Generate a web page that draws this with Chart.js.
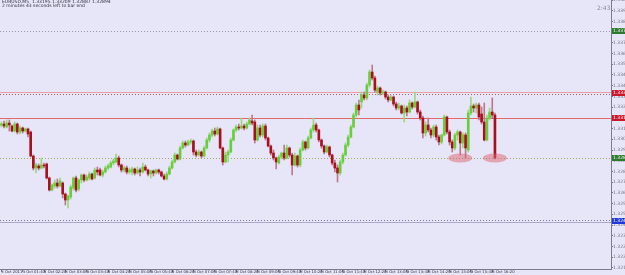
<!DOCTYPE html>
<html>
<head>
<meta charset="utf-8">
<script src="https://cdn.jsdelivr.net/npm/chart.js@4.4.1/dist/chart.umd.min.js"></script>
<style>
  html, body { margin: 0; padding: 0; background: #e6e6f8; }
  #wrap { width: 625px; height: 275px; }
</style>
</head>
<body>
<div id="wrap"><canvas id="priceChart" width="625" height="275"></canvas></div>
<script>
// EURUSD M5, 3 Oct 2011
const timeLabels = ['3 Oct 2011', '3 Oct 01:40', '3 Oct 02:20', '3 Oct 03:00', '3 Oct 03:40', '3 Oct 04:20',
    '3 Oct 05:00', '3 Oct 05:40', '3 Oct 06:20', '3 Oct 07:00', '3 Oct 07:40', '3 Oct 08:20',
    '3 Oct 09:00', '3 Oct 09:40', '3 Oct 10:20', '3 Oct 11:00', '3 Oct 11:40', '3 Oct 12:20',
    '3 Oct 13:00', '3 Oct 13:40', '3 Oct 14:20', '3 Oct 15:00', '3 Oct 15:40', '3 Oct 16:20'];

const opens = [
    1.33125,1.33132,1.33111,1.33139,1.33118,1.33083,1.33132,1.33076,1.33104,1.33083,
    1.33097,1.33076,1.32908,1.32824,1.32838,1.32824,1.32845,1.32852,1.32754,1.32670,
    1.32698,1.32719,1.32698,1.32719,1.32642,1.32600,1.32621,1.32684,1.32754,1.32677,
    1.32740,1.32775,1.32740,1.32754,1.32782,1.32754,1.32810,1.32810,1.32775,1.32796,
    1.32824,1.32831,1.32859,1.32866,1.32894,1.32845,1.32810,1.32824,1.32796,1.32796,
    1.32817,1.32789,1.32810,1.32796,1.32831,1.32810,1.32782,1.32803,1.32789,1.32810,
    1.32796,1.32768,1.32747,1.32782,1.32824,1.32866,1.32915,1.32887,1.32964,1.32999,
    1.32985,1.33006,1.33013,1.32936,1.32915,1.32936,1.32908,1.32964,1.33020,1.33055,
    1.33083,1.33062,1.33097,1.32964,1.32866,1.32915,1.32936,1.33020,1.33090,1.33111,
    1.33104,1.33118,1.33104,1.33132,1.33153,1.33146,1.33020,1.33104,1.33055,1.33118,
    1.33034,1.32978,1.32929,1.32894,1.32859,1.32901,1.32929,1.32894,1.32964,1.32915,
    1.32845,1.32908,1.32845,1.32950,1.33006,1.32964,1.33034,1.33090,1.33125,1.33090,
    1.33020,1.32978,1.32936,1.32971,1.32915,1.32859,1.32824,1.32789,1.32866,1.32915,
    1.32985,1.33041,1.33111,1.33195,1.33265,1.33286,1.33335,1.33314,1.33405,1.33496,
    1.33454,1.33356,1.33384,1.33349,1.33356,1.33321,1.33300,1.33321,1.33272,1.33244,
    1.33258,1.33209,1.33244,1.33216,1.33279,1.33251,1.33286,1.33216,1.33174,1.33069,
    1.33125,1.33090,1.33055,1.33111,1.33041,1.33006,1.33055,1.33181,1.33076,1.33006,
    1.32964,1.33055,1.33076,1.32999,1.33055,1.32950,1.33209,1.33258,1.33244,1.33265,
    1.33202,1.33146,1.33020,1.33174,1.33216,1.33195
];
const highs = [
    1.33146,1.33153,1.33160,1.33160,1.33125,1.33146,1.33139,1.33118,1.33111,1.33104,
    1.33104,1.33083,1.32915,1.32859,1.32852,1.32894,1.32859,1.32859,1.32761,1.32712,
    1.32740,1.32747,1.32754,1.32726,1.32649,1.32635,1.32705,1.32761,1.32768,1.32747,
    1.32782,1.32782,1.32775,1.32796,1.32789,1.32824,1.32831,1.32824,1.32810,1.32838,
    1.32852,1.32873,1.32887,1.32922,1.32908,1.32852,1.32838,1.32838,1.32824,1.32831,
    1.32824,1.32831,1.32824,1.32859,1.32845,1.32817,1.32810,1.32810,1.32817,1.32817,
    1.32803,1.32782,1.32796,1.32838,1.32880,1.32929,1.32922,1.32978,1.33013,1.33013,
    1.33020,1.33027,1.33020,1.32950,1.32950,1.32943,1.32978,1.33034,1.33069,1.33097,
    1.33104,1.33111,1.33104,1.32971,1.32936,1.32950,1.33034,1.33097,1.33125,1.33132,
    1.33174,1.33132,1.33146,1.33174,1.33195,1.33160,1.33125,1.33125,1.33132,1.33132,
    1.33041,1.32985,1.32950,1.32901,1.32915,1.32936,1.32985,1.32985,1.32971,1.32929,
    1.32929,1.32915,1.32964,1.33020,1.33013,1.33048,1.33104,1.33174,1.33139,1.33097,
    1.33027,1.32985,1.32985,1.32978,1.32922,1.32880,1.32845,1.32880,1.32929,1.32999,
    1.33055,1.33125,1.33209,1.33279,1.33300,1.33356,1.33356,1.33419,1.33510,1.33545,
    1.33468,1.33398,1.33391,1.33370,1.33363,1.33335,1.33335,1.33328,1.33286,1.33279,
    1.33265,1.33265,1.33258,1.33300,1.33286,1.33356,1.33293,1.33230,1.33188,1.33146,
    1.33174,1.33104,1.33125,1.33125,1.33055,1.33062,1.33195,1.33188,1.33090,1.33020,
    1.33069,1.33090,1.33083,1.33069,1.33069,1.33230,1.33321,1.33272,1.33279,1.33279,
    1.33251,1.33279,1.33195,1.33244,1.33314,1.33209
];
const lows = [
    1.33111,1.33104,1.33104,1.33083,1.33076,1.33076,1.33062,1.33062,1.33069,1.33076,
    1.33041,1.32901,1.32810,1.32789,1.32810,1.32817,1.32824,1.32747,1.32663,1.32663,
    1.32684,1.32684,1.32691,1.32614,1.32565,1.32544,1.32607,1.32670,1.32656,1.32663,
    1.32719,1.32726,1.32733,1.32740,1.32740,1.32747,1.32775,1.32768,1.32761,1.32789,
    1.32810,1.32824,1.32845,1.32859,1.32831,1.32796,1.32796,1.32782,1.32782,1.32775,
    1.32775,1.32782,1.32768,1.32789,1.32803,1.32768,1.32754,1.32768,1.32782,1.32782,
    1.32761,1.32740,1.32740,1.32775,1.32817,1.32859,1.32880,1.32880,1.32957,1.32971,
    1.32978,1.32992,1.32915,1.32901,1.32908,1.32894,1.32901,1.32957,1.33006,1.33041,
    1.33048,1.33055,1.32957,1.32845,1.32859,1.32866,1.32929,1.33013,1.33076,1.33090,
    1.33097,1.33090,1.33097,1.33125,1.33125,1.32999,1.33013,1.33041,1.33041,1.33020,
    1.32971,1.32915,1.32880,1.32817,1.32852,1.32887,1.32880,1.32887,1.32901,1.32775,
    1.32838,1.32831,1.32831,1.32943,1.32950,1.32957,1.33027,1.33076,1.33076,1.33006,
    1.32964,1.32922,1.32929,1.32901,1.32845,1.32796,1.32726,1.32775,1.32852,1.32908,
    1.32971,1.33034,1.33104,1.33181,1.33195,1.33244,1.33300,1.33300,1.33391,1.33440,
    1.33356,1.33335,1.33335,1.33335,1.33307,1.33286,1.33293,1.33258,1.33230,1.33230,
    1.33202,1.33146,1.33188,1.33209,1.33237,1.33244,1.33202,1.33160,1.33034,1.33048,
    1.33076,1.33034,1.33041,1.33020,1.32985,1.32992,1.33048,1.33062,1.32985,1.32936,
    1.32950,1.33020,1.32915,1.32964,1.32894,1.32936,1.33195,1.33216,1.33209,1.33160,
    1.33132,1.33013,1.33013,1.33160,1.33174,1.32887
];
const closes = [
    1.33132,1.33118,1.33139,1.33125,1.33083,1.33132,1.33076,1.33104,1.33083,1.33097,
    1.33062,1.32908,1.32824,1.32845,1.32824,1.32845,1.32838,1.32754,1.32670,1.32705,
    1.32719,1.32698,1.32733,1.32642,1.32600,1.32628,1.32691,1.32754,1.32670,1.32740,
    1.32775,1.32740,1.32761,1.32782,1.32747,1.32810,1.32796,1.32775,1.32796,1.32824,
    1.32838,1.32859,1.32873,1.32894,1.32845,1.32810,1.32824,1.32796,1.32810,1.32817,
    1.32789,1.32810,1.32796,1.32831,1.32810,1.32782,1.32803,1.32789,1.32810,1.32796,
    1.32768,1.32747,1.32782,1.32824,1.32866,1.32915,1.32887,1.32964,1.32999,1.32985,
    1.33006,1.33013,1.32936,1.32915,1.32936,1.32908,1.32964,1.33020,1.33055,1.33083,
    1.33062,1.33097,1.32964,1.32866,1.32915,1.32936,1.33020,1.33090,1.33111,1.33104,
    1.33118,1.33104,1.33132,1.33160,1.33139,1.33020,1.33104,1.33055,1.33118,1.33034,
    1.32978,1.32929,1.32894,1.32866,1.32901,1.32929,1.32894,1.32964,1.32915,1.32845,
    1.32908,1.32845,1.32950,1.33006,1.32964,1.33034,1.33090,1.33125,1.33090,1.33020,
    1.32978,1.32936,1.32971,1.32915,1.32859,1.32824,1.32789,1.32866,1.32915,1.32985,
    1.33041,1.33111,1.33195,1.33265,1.33230,1.33335,1.33314,1.33405,1.33496,1.33454,
    1.33370,1.33384,1.33349,1.33356,1.33321,1.33300,1.33321,1.33272,1.33244,1.33258,
    1.33209,1.33244,1.33216,1.33279,1.33251,1.33286,1.33216,1.33174,1.33069,1.33125,
    1.33090,1.33055,1.33111,1.33041,1.33006,1.33055,1.33181,1.33076,1.33006,1.32964,
    1.33055,1.33076,1.32999,1.33055,1.32964,1.33209,1.33258,1.33244,1.33265,1.33181,
    1.33146,1.33020,1.33174,1.33216,1.33195,1.32894
];

// right price scale
const priceTicks = [1.32125, 1.32200, 1.32275, 1.32350, 1.32425, 1.32500, 1.32575, 1.32650, 1.32725,
    1.32800, 1.32875, 1.32950, 1.33025, 1.33100, 1.33175, 1.33250, 1.33325, 1.33400, 1.33475,
    1.33550, 1.33625, 1.33700, 1.33775, 1.33850, 1.33925, 1.34000];

// horizontal lines drawn on the chart
const levelPrices = [1.33783, 1.33353, 1.33342, 1.33174, 1.32894, 1.32460, 1.32446];
const levelStyles = [
    { color: '#9a9aa6', dash: [1, 2] },
    { color: '#eba0a6', dash: [] },
    { color: '#b06070', dash: [1, 2] },
    { color: '#e06a6a', dash: [] },
    { color: '#a4a860', dash: [1, 2] },
    { color: '#7a7aa0', dash: [1, 2] },
    { color: '#a8a8d0', dash: [] }
];
// price boxes on the right axis
const boxPrices = [1.33783, 1.33349, 1.33174, 1.32894, 1.32453];
const boxColors = ['#2d7a2d', '#c8182e', '#c8182e', '#2d7a2d', '#2038d8'];

// marked lows (bar index, price)
const markBars = [172, 185];
const markPrices = [1.32894, 1.32894];

const slotCount = 229;
const bullColor = '#6acd3c';
const bearColor = '#a8101e';

const slots = Array.from({ length: slotCount }, (_, i) => i);
const isBull = opens.map((o, i) => closes[i] >= o);

const overlay = {
    id: 'overlay',
    beforeDraw(chart) {
        const c = chart.ctx;
        c.save();
        c.fillStyle = '#e6e6f8';
        c.fillRect(0, 0, chart.width, chart.height);
        c.restore();
    },
    beforeDatasetsDraw(chart) {
        const c = chart.ctx;
        const area = chart.chartArea;
        const y = chart.scales.y;
        c.save();
        levelPrices.forEach((p, i) => {
            const py = Math.round(y.getPixelForValue(p)) + 0.5;
            c.strokeStyle = levelStyles[i].color;
            c.setLineDash(levelStyles[i].dash);
            c.lineWidth = 1;
            c.beginPath();
            c.moveTo(area.left, py);
            c.lineTo(area.right, py);
            c.stroke();
        });
        c.restore();
    },
    afterDatasetsDraw(chart) {
        const c = chart.ctx;
        const x = chart.scales.x;
        const y = chart.scales.y;
        c.save();
        c.fillStyle = 'rgba(222, 100, 112, 0.5)';
        markBars.forEach((b, i) => {
            c.beginPath();
            c.ellipse(x.getPixelForValue(b), y.getPixelForValue(markPrices[i]), 12, 4.5, 0, 0, Math.PI * 2);
            c.fill();
        });
        c.restore();
    },
    afterDraw(chart) {
        const c = chart.ctx;
        const area = chart.chartArea;
        const y = chart.scales.y;
        c.save();
        c.font = '4.5px "DejaVu Sans"';
        c.textBaseline = 'middle';
        boxPrices.forEach((p, i) => {
            const py = Math.round(y.getPixelForValue(p));
            c.fillStyle = boxColors[i];
            c.fillRect(area.right + 1, py - 3, 14, 6);
            c.fillStyle = '#ffffff';
            c.fillText(p.toFixed(5), area.right + 2, py);
        });
        // header
        const last = closes.length - 1;
        c.fillStyle = '#303040';
        c.font = '4.5px "DejaVu Sans"';
        c.textBaseline = 'top';
        c.fillText('EURUSD,M5  ' + opens[last].toFixed(5) + ' ' + highs[last].toFixed(5) + ' ' +
            lows[last].toFixed(5) + ' ' + closes[last].toFixed(5), 2, 0);
        c.fillText('2 minutes 43 seconds left to bar end', 2, 4);
        c.fillStyle = '#8a8a98';
        c.font = '6px "DejaVu Sans"';
        c.fillText('2:43', 597, 5);
        c.restore();
    }
};

new Chart(document.getElementById('priceChart'), {
    type: 'bar',
    data: {
        labels: slots,
        datasets: [
            {
                label: 'body',
                data: opens.map((o, i) => [o, closes[i]]),
                backgroundColor: isBull.map(b => b ? bullColor : bearColor),
                barThickness: 2,
                minBarLength: 1,
                grouped: false
            },
            {
                label: 'wick',
                data: lows.map((l, i) => [l, highs[i]]),
                backgroundColor: isBull.map(b => b ? '#9ad880' : '#c0788a'),
                barThickness: 1,
                grouped: false
            }
        ]
    },
    options: {
        responsive: false,
        animation: false,
        layout: { padding: 0 },
        plugins: { legend: { display: false }, tooltip: { enabled: false } },
        scales: {
            x: {
                offset: true,
                grid: { drawOnChartArea: false, drawTicks: true, tickLength: 3, color: '#7c7c8c', offset: false },
                border: { color: '#7c7c8c' },
                ticks: {
                    autoSkip: false,
                    maxRotation: 0,
                    align: 'start',
                    padding: -2,
                    color: '#333340',
                    font: { size: 3.8, family: 'DejaVu Sans' },
                    callback: v => timeLabels[v / 8]
                },
                afterBuildTicks: s => {
                    s.ticks = s.ticks.filter(t => t.value % 8 === 0 && t.value / 8 < timeLabels.length);
                },
                afterFit: s => { s.height = 6; s.paddingLeft = 0; s.paddingRight = 0; }
            },
            y: {
                position: 'right',
                min: 1.32117,
                max: 1.34,
                grid: { drawOnChartArea: false, tickLength: 2, color: '#7c7c8c' },
                border: { color: '#7c7c8c' },
                ticks: {
                    padding: 0,
                    color: '#70707c',
                    font: { size: 4.5, family: 'DejaVu Sans' },
                    callback: v => v.toFixed(5)
                },
                afterBuildTicks: s => { s.ticks = priceTicks.map(v => ({ value: v })); },
                afterFit: s => { s.width = 14; s.paddingTop = 0; s.paddingBottom = 0; }
            }
        }
    },
    plugins: [overlay]
});
</script>
</body>
</html>
